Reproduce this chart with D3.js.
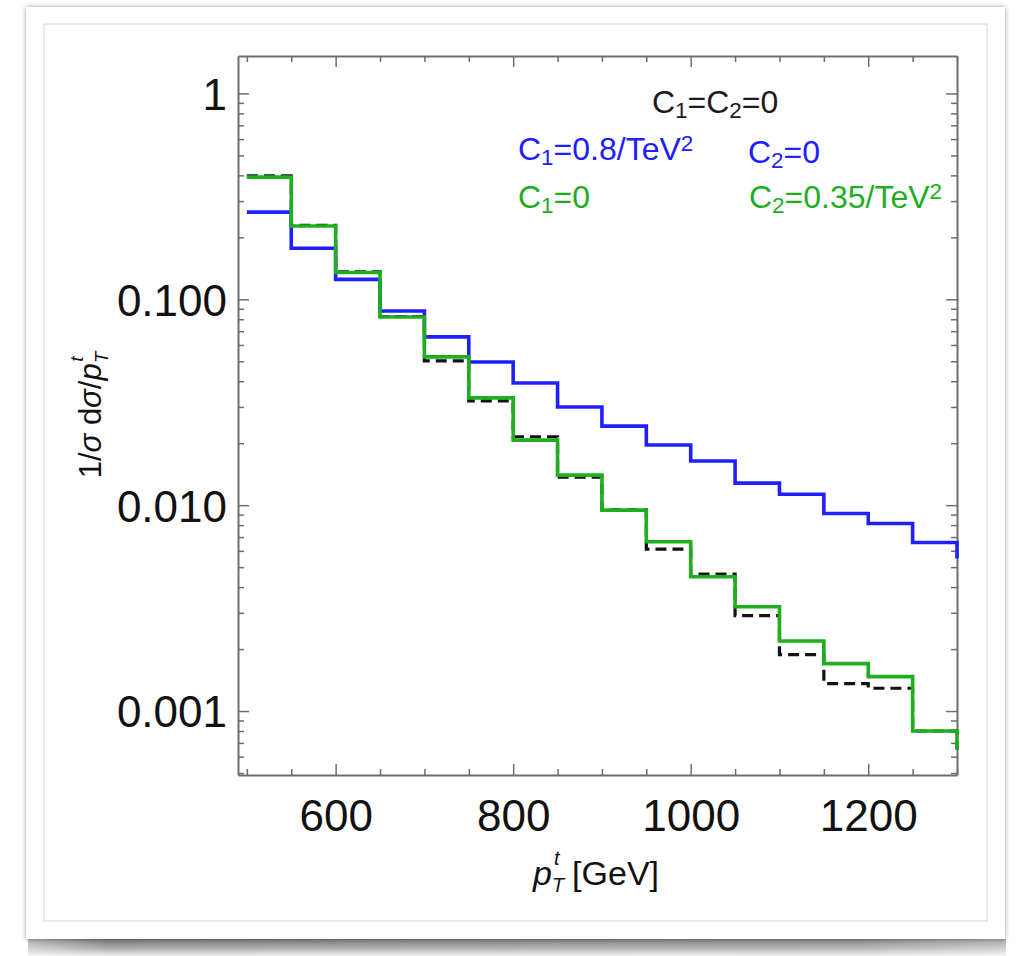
<!DOCTYPE html>
<html><head><meta charset="utf-8">
<script src="https://cdn.jsdelivr.net/npm/d3@7"></script>
<style>
html,body{margin:0;padding:0;background:#fff;}
svg{display:block;font-family:"Liberation Sans",Arial,Helvetica,sans-serif;}
</style></head>
<body>
<svg id="chart" width="1020" height="956"></svg>
<script>
// ---- data ----
const binEdges = [500,550,600,650,700,750,800,850,900,950,1000,1050,1100,1150,1200,1250,1300];
const blueVals  = [0.265,0.177,0.125,0.0878,0.0657,0.0496,0.0392,0.0300,0.0242,0.0196,0.0164,0.0128,0.0113,0.00911,0.00815,0.00659];
const greenVals = [0.392,0.227,0.135,0.082,0.0525,0.0332,0.0207,0.0140,0.00946,0.00664,0.00449,0.00321,0.00219,0.00170,0.00147,0.00080];
const blackVals = [0.398,0.229,0.136,0.0825,0.0502,0.0321,0.0215,0.0137,0.0095,0.00611,0.00462,0.00291,0.00188,0.00136,0.00129,0.00080];
const tailVals = {blue:0.0055, green:0.00065, black:0.00065};
const xMajorTicks = [600,800,1000,1200];
const yMajorTicks = [0.001,0.01,0.1,1];
const yTickLabels = ["0.001","0.010","0.100","1"];

const svg = d3.select("#chart");
const defs = svg.append("defs");

// card with shadow
const g1 = defs.append("linearGradient").attr("id","bottomShadow").attr("x1",0).attr("y1",0).attr("x2",0).attr("y2",1);
g1.append("stop").attr("offset","0%").attr("stop-color","#7a7a7a");
g1.append("stop").attr("offset","45%").attr("stop-color","#a2a2a2");
g1.append("stop").attr("offset","100%").attr("stop-color","#eeeeee");
const g2 = defs.append("linearGradient").attr("id","bottomFade").attr("x1",0).attr("y1",0).attr("x2",1).attr("y2",0);
g2.append("stop").attr("offset","0%").attr("stop-color","#fff").attr("stop-opacity",0.45);
g2.append("stop").attr("offset","8%").attr("stop-color","#fff").attr("stop-opacity",0);
g2.append("stop").attr("offset","85%").attr("stop-color","#fff").attr("stop-opacity",0.12);
g2.append("stop").attr("offset","100%").attr("stop-color","#fff").attr("stop-opacity",0.4);
const sf = defs.append("filter").attr("id","cardShadow").attr("x","-5%").attr("y","-5%").attr("width","110%").attr("height","110%");
sf.append("feGaussianBlur").attr("in","SourceAlpha").attr("stdDeviation",2.5);
sf.append("feOffset").attr("dx",0).attr("dy",0).attr("result","b");
sf.append("feComponentTransfer").append("feFuncA").attr("type","linear").attr("slope",0.4);
const fm = sf.append("feMerge"); fm.append("feMergeNode"); fm.append("feMergeNode").attr("in","SourceGraphic");

svg.append("rect").attr("x",28).attr("y",939).attr("width",978).attr("height",17).attr("fill","url(#bottomShadow)");
svg.append("rect").attr("x",28).attr("y",939).attr("width",978).attr("height",17).attr("fill","url(#bottomFade)");
svg.append("rect").attr("x",26).attr("y",7).attr("width",979).attr("height",932).attr("fill","#fff").attr("filter","url(#cardShadow)");
svg.append("rect").attr("x",44).attr("y",24).attr("width",943).attr("height",897).attr("fill","#fff").attr("stroke","#e2e2e2").attr("stroke-width",1.5);

// ---- plot area ----
const L = 238, R = 957, T = 56, B = 775;
const x = d3.scaleLinear().domain([490,1300]).range([L,R]);
const y = d3.scaleLog().domain([4.89e-4,1.52]).range([B,T]);

const frameColor = "#6e6e6e";
const fontFam = '"Liberation Sans",Arial,Helvetica,sans-serif';

// minor ticks
const xMinor = d3.range(500,1301,50).filter(v=>!xMajorTicks.includes(v));
const yMinor = [];
[1e-4,1e-3,1e-2,1e-1,1].forEach(d=>{ for(let k=2;k<=9;k++){ const v=d*k; if(v>=y.domain()[0] && v<=y.domain()[1]) yMinor.push(v);} });

function styleAxis(sel){
  sel.selectAll(".domain").attr("stroke",frameColor).attr("stroke-width",2);
  sel.selectAll(".tick line").attr("stroke",frameColor).attr("stroke-width",1.5);
}
// bottom
const axB = svg.append("g").attr("transform",`translate(0,${B})`)
  .call(d3.axisBottom(x).tickValues(xMajorTicks).tickSizeInner(-11).tickSizeOuter(0).tickPadding(24).tickFormat(d3.format("d")));
styleAxis(axB);
axB.selectAll("text").attr("fill","#111").style("font-size","44px").style("font-family",fontFam).attr("dy","0.72em");
const axBm = svg.append("g").attr("transform",`translate(0,${B})`)
  .call(d3.axisBottom(x).tickValues(xMinor).tickSizeInner(-6).tickSizeOuter(0).tickFormat(""));
styleAxis(axBm); axBm.select(".domain").remove();
// top
const axT = svg.append("g").attr("transform",`translate(0,${T})`)
  .call(d3.axisTop(x).tickValues(xMajorTicks).tickSizeInner(-11).tickSizeOuter(0).tickFormat(""));
styleAxis(axT);
const axTm = svg.append("g").attr("transform",`translate(0,${T})`)
  .call(d3.axisTop(x).tickValues(xMinor).tickSizeInner(-6).tickSizeOuter(0).tickFormat(""));
styleAxis(axTm); axTm.select(".domain").remove();
// left
const axL = svg.append("g").attr("transform",`translate(${L},0)`)
  .call(d3.axisLeft(y).tickValues(yMajorTicks).tickSizeInner(-11).tickSizeOuter(0).tickPadding(11)
  .tickFormat((d,i)=>yTickLabels[i]));
styleAxis(axL);
axL.selectAll("text").attr("fill","#111").style("font-size","44px").style("font-family",fontFam).attr("dy","0.36em");
const axLm = svg.append("g").attr("transform",`translate(${L},0)`)
  .call(d3.axisLeft(y).tickValues(yMinor).tickSizeInner(-6).tickSizeOuter(0).tickFormat(""));
styleAxis(axLm); axLm.select(".domain").remove();
// right
const axR = svg.append("g").attr("transform",`translate(${R},0)`)
  .call(d3.axisRight(y).tickValues(yMajorTicks).tickSizeInner(-11).tickSizeOuter(0).tickFormat(""));
styleAxis(axR);
const axRm = svg.append("g").attr("transform",`translate(${R},0)`)
  .call(d3.axisRight(y).tickValues(yMinor).tickSizeInner(-6).tickSizeOuter(0).tickFormat(""));
styleAxis(axRm); axRm.select(".domain").remove();

// ---- step histograms ----
const line = d3.line().x(d=>x(d[0])).y(d=>y(d[1])).curve(d3.curveStepAfter);
function pts(vals, tail){
  const p = vals.map((v,i)=>[binEdges[i], v]);
  p.push([binEdges[binEdges.length-1], tail]);
  return p;
}
const series = [
  {name:"black", vals:blackVals, color:"#111", dash:"11,6", w:3.2},
  {name:"blue", vals:blueVals, color:"#2020ff", dash:null, w:3.6},
  {name:"green", vals:greenVals, color:"#1fae1f", dash:null, w:3.6}
];
series.forEach(s=>{
  svg.append("path").attr("d",line(pts(s.vals, tailVals[s.name])))
    .attr("fill","none").attr("stroke",s.color).attr("stroke-width",s.w)
    .attr("stroke-dasharray",s.dash).attr("stroke-linejoin","miter").attr("stroke-linecap","butt");
});

// ---- legend texts ----
function richText(g, xPos, yPos, parts, color, size){
  const t = g.append("text").attr("x",xPos).attr("y",yPos).attr("fill",color)
    .style("font-size",size+"px").style("font-family",fontFam);
  parts.forEach(p=>{
    const ts = t.append("tspan").text(p.t);
    if(p.sub){ ts.attr("baseline-shift","-22%").style("font-size",(size*0.7)+"px"); }
    if(p.sup){ ts.attr("baseline-shift","40%").style("font-size",(size*0.7)+"px"); }
    if(p.it){ ts.style("font-style","italic"); }
    if(p.dx){ ts.attr("dx",p.dx); }
  });
  return t;
}
const lg = svg.append("g");
richText(lg, 652, 113, [{t:"C"},{t:"1",sub:1},{t:"=C"},{t:"2",sub:1},{t:"=0"}], "#1a1a1a", 32);
richText(lg, 518, 160, [{t:"C"},{t:"1",sub:1},{t:"=0.8/TeV"},{t:"2",sup:1}], "#2020ff", 32);
richText(lg, 748, 163, [{t:"C"},{t:"2",sub:1},{t:"=0"}], "#2020ff", 32);
richText(lg, 518, 208, [{t:"C"},{t:"1",sub:1},{t:"=0"}], "#1fae1f", 32);
richText(lg, 749, 208, [{t:"C"},{t:"2",sub:1},{t:"=0.35/TeV"},{t:"2",sup:1}], "#1fae1f", 32);

// ---- axis titles ----
const xt = svg.append("text").attr("x",596).attr("y",885).attr("text-anchor","middle").attr("fill","#111")
  .style("font-size","34px").style("font-family",fontFam);
xt.append("tspan").text("p").style("font-style","italic");
xt.append("tspan").text("T").style("font-style","italic").style("font-size","20px").attr("dy",7);
xt.append("tspan").text("t").style("font-style","italic").style("font-size","20px").attr("dx",-10).attr("dy",-27);
xt.append("tspan").text("\u00a0[GeV]").attr("dy",20).attr("dx",3);

const yt = svg.append("text").attr("transform","translate(101,415) rotate(-90)").attr("text-anchor","middle").attr("fill","#111")
  .style("font-size","31px").style("font-family",fontFam);
yt.append("tspan").text("1/");
yt.append("tspan").text("σ").style("font-style","italic");
yt.append("tspan").text(" d");
yt.append("tspan").text("σ").style("font-style","italic");
yt.append("tspan").text("/");
yt.append("tspan").text("p").style("font-style","italic");
yt.append("tspan").text("T").style("font-style","italic").style("font-size","19px").attr("dy",7);
yt.append("tspan").text("t").style("font-style","italic").style("font-size","19px").attr("dx",-10).attr("dy",-25);
</script>
</body></html>
